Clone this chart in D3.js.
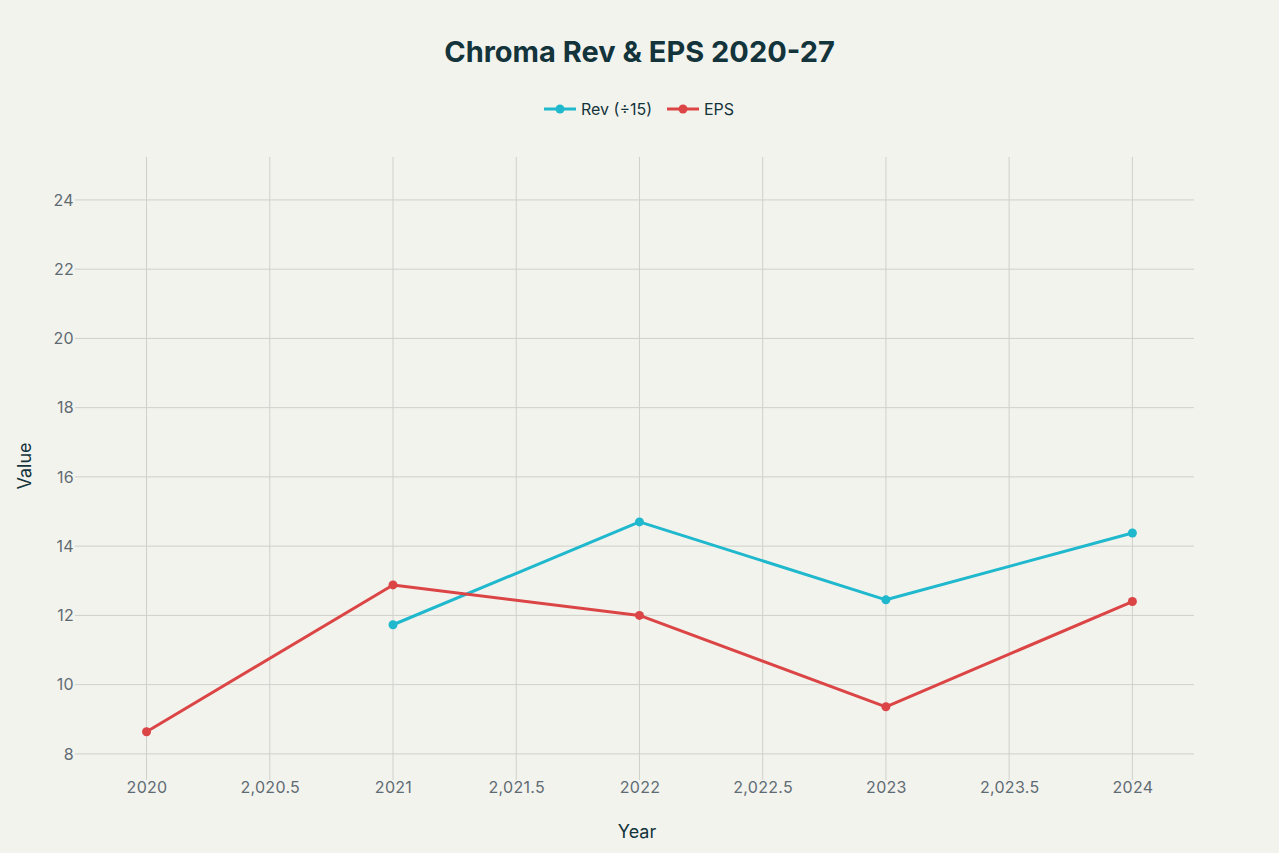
<!DOCTYPE html>
<html>
<head>
<meta charset="utf-8">
<script src="https://cdn.jsdelivr.net/npm/d3@7"></script>
<style>
  html, body { margin: 0; padding: 0; background: #F3F3EE; }
  svg { display: block; font-family: Inter, "Noto Sans", sans-serif; }
  .grid line { stroke: #D0D0CB; stroke-width: 1; }
  .tick text { fill: #5F6B73; font-size: 16px; font-family: Inter, "Noto Sans", sans-serif; letter-spacing: 0.3px; }
</style>
</head>
<body>
<div id="chart"></div>
<script>
// Chart data
const years = [2020, 2021, 2022, 2023, 2024];
const revValues = [null, 11.73, 14.70, 12.45, 14.38];   // Rev (÷15)
const epsValues = [8.64, 12.88, 12.0, 9.36, 12.4];
const seriesNames = ["Rev (÷15)", "EPS"];
const seriesColors = ["#1FB8CD", "#DB4545"];
const yTicks = [8, 10, 12, 14, 16, 18, 20, 22, 24];
const xTicks = [2020, 2020.5, 2021, 2021.5, 2022, 2022.5, 2023, 2023.5, 2024];

const width = 1279, height = 853;
const margin = {top: 157, right: 85, bottom: 78, left: 80};
const innerW = width - margin.left - margin.right;
const innerH = height - margin.top - margin.bottom;

const svg = d3.select("#chart").append("svg")
    .attr("width", width)
    .attr("height", height);

// Title
svg.append("text")
   .attr("x", width / 2)
   .attr("y", 62)
   .attr("text-anchor", "middle")
   .style("font-size", "29px")
   .style("font-weight", "bold")
   .style("fill", "#13343B")
   .text("Chroma Rev & EPS 2020-27");

const g = svg.append("g")
    .attr("transform", "translate(" + margin.left + "," + margin.top + ")");

const xScale = d3.scaleLinear()
    .domain([2019.73, 2024.25])
    .range([0, innerW]);
const yScale = d3.scaleLinear()
    .domain([7.39, 25.24])
    .range([innerH, 0]);

// Gridlines (they run a little past the plot like tick marks)
g.append("g").attr("class", "grid")
 .selectAll("line").data(xTicks).enter().append("line")
 .attr("x1", d => xScale(d)).attr("x2", d => xScale(d))
 .attr("y1", 0).attr("y2", innerH + 5);
g.append("g").attr("class", "grid")
 .selectAll("line").data(yTicks).enter().append("line")
 .attr("x1", -5).attr("x2", innerW)
 .attr("y1", d => yScale(d)).attr("y2", d => yScale(d));

// Axes (no domain line)
const xAxis = g.append("g")
    .attr("transform", "translate(0," + innerH + ")")
    .call(d3.axisBottom(xScale).tickValues(xTicks).tickSize(0).tickPadding(7)
        .tickFormat(d => Number.isInteger(d) ? String(d) : d3.format(",")(d)));
xAxis.select(".domain").remove();

const yAxis = g.append("g")
    .call(d3.axisLeft(yScale).tickValues(yTicks).tickSize(0).tickPadding(6));
yAxis.select(".domain").remove();

// Axis titles
svg.append("text")
   .attr("x", margin.left + innerW / 2)
   .attr("y", 838)
   .attr("text-anchor", "middle")
   .style("font-size", "18px")
   .style("fill", "#13343B")
   .text("Year");
svg.append("text")
   .attr("transform", "translate(31," + (margin.top + innerH / 2) + ") rotate(-90)")
   .attr("text-anchor", "middle")
   .style("font-size", "18px")
   .style("fill", "#13343B")
   .text("Value");

// Lines and markers
const allSeries = [revValues, epsValues];
const line = d3.line()
    .defined(d => d.v != null)
    .x(d => xScale(d.x))
    .y(d => yScale(d.v));

allSeries.forEach(function (vals, i) {
    const pts = years.map((y, j) => ({x: y, v: vals[j]}));
    g.append("path")
     .datum(pts)
     .attr("fill", "none")
     .attr("stroke", seriesColors[i])
     .attr("stroke-width", 3)
     .attr("stroke-linejoin", "round")
     .attr("d", line);
    g.append("g")
     .selectAll("circle")
     .data(pts.filter(d => d.v != null))
     .enter().append("circle")
     .attr("cx", d => xScale(d.x))
     .attr("cy", d => yScale(d.v))
     .attr("r", 4.5)
     .attr("fill", seriesColors[i]);
});

// Legend
const legend = svg.append("g");
const legendX = [544, 667];
seriesNames.forEach(function (name, i) {
    const lg = legend.append("g").attr("transform", "translate(" + legendX[i] + ",109)");
    lg.append("line").attr("x1", 0).attr("x2", 32).attr("y1", 0).attr("y2", 0)
      .attr("stroke", seriesColors[i]).attr("stroke-width", 3);
    lg.append("circle").attr("cx", 16).attr("cy", 0).attr("r", 4.5).attr("fill", seriesColors[i]);
    lg.append("text").attr("x", 37).attr("y", 6)
      .style("font-size", "16px").style("fill", "#13343B").text(name);
});
</script>
</body>
</html>
